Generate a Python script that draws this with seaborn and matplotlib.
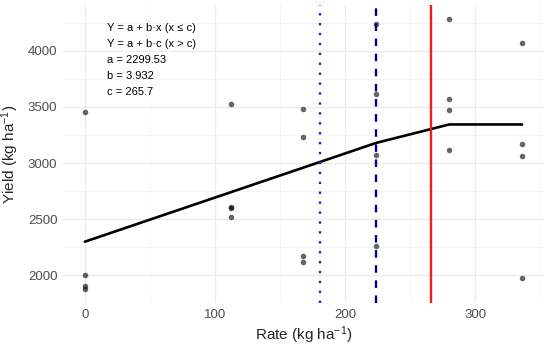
import numpy as np
import pandas as pd
import seaborn as sns
import matplotlib.pyplot as plt
from matplotlib.ticker import MultipleLocator

# observed yields (4 reps per N rate)
rate = [0, 0, 0, 0,
        112, 112, 112, 112,
        168, 168, 168, 168,
        224, 224, 224, 224,
        280, 280, 280, 280,
        336, 336, 336, 336]
yld = [3456, 2005, 1909, 1874,
       3526, 2600, 2608, 2520,
       3482, 3235, 2176, 2121,
       4238, 3612, 3071, 2258,
       4288, 3570, 3473, 3118,
       4068, 3174, 3065, 1980]

# linear-plateau fitted values at each rate
fit_rate = [0, 112, 168, 224, 280, 336]
fit_yield = [2299.5, 2739.9, 2960.1, 3180.3, 3344.3, 3344.3]

# reference lines
rate_dotted = 181
rate_dashed = 223.5
rate_critical = 265.7

label_lines = ["Y = a + b\u00b7x (x \u2264 c)",
               "Y = a + b\u00b7c (x > c)",
               "a = 2299.53",
               "b = 3.932",
               "c = 265.7"]

df = pd.DataFrame({"rate": rate, "yield": yld})
fit = pd.DataFrame({"rate": fit_rate, "yield": fit_yield})

sns.set_theme(style="white")
plt.rcParams['font.family'] = ['Liberation Sans', 'DejaVu Sans']
plt.rcParams['mathtext.fontset'] = 'custom'
plt.rcParams['mathtext.rm'] = 'Liberation Sans'
plt.rcParams['mathtext.it'] = 'Liberation Sans'
plt.rcParams['mathtext.default'] = 'regular'

dpi = 100
fig = plt.figure(figsize=(550 / dpi, 348 / dpi), dpi=dpi)
ax = fig.add_axes([0.1145, 0.1293, 0.8745, 0.8563])

# grid like theme_minimal
ax.xaxis.set_major_locator(MultipleLocator(100))
ax.xaxis.set_minor_locator(MultipleLocator(50))
ax.yaxis.set_major_locator(MultipleLocator(500))
ax.yaxis.set_minor_locator(MultipleLocator(250))
ax.grid(which="major", color="#EBEBEB", linewidth=0.9)
ax.grid(which="minor", color="#F2F2F2", linewidth=0.5)
ax.set_axisbelow(True)

sns.scatterplot(data=df, x="rate", y="yield", ax=ax, color="black",
                alpha=0.6, s=16, linewidth=0, zorder=3)
sns.lineplot(data=fit, x="rate", y="yield", ax=ax, color="black",
             linewidth=1.9, zorder=4)

ax.axvline(rate_dotted, color="#1F1FE0", linewidth=1.7, linestyle=(0, (1, 3.2)), zorder=5)
ax.axvline(rate_dashed, color="#000080", linewidth=1.7, linestyle=(0, (3.2, 3.2)), zorder=5)
ax.axvline(rate_critical, color="#EE1C1C", linewidth=1.7, zorder=5)

span = max(rate) - min(rate)
ax.set_xlim(min(rate) - 0.05 * span, max(rate) + 0.05 * span)
yspan = max(yld) - min(yld)
ax.set_ylim(min(yld) - 0.05 * yspan, max(yld) + 0.05 * yspan)

for i, t in enumerate(label_lines):
    ax.text(0.092, 0.923 - i * 0.0537, t, transform=ax.transAxes,
            fontsize=8, color="black", va="center", ha="left")

for s in ax.spines.values():
    s.set_visible(False)
ax.tick_params(which="both", length=0, labelsize=9.5, labelcolor="#4D4D4D", pad=4)

ax.set_xlabel("Rate (kg ha$^{-1}$)", fontsize=11, labelpad=3)
ax.set_ylabel("Yield (kg ha$^{-1}$)", fontsize=11, labelpad=5)

plt.savefig("out.png", dpi=dpi)
